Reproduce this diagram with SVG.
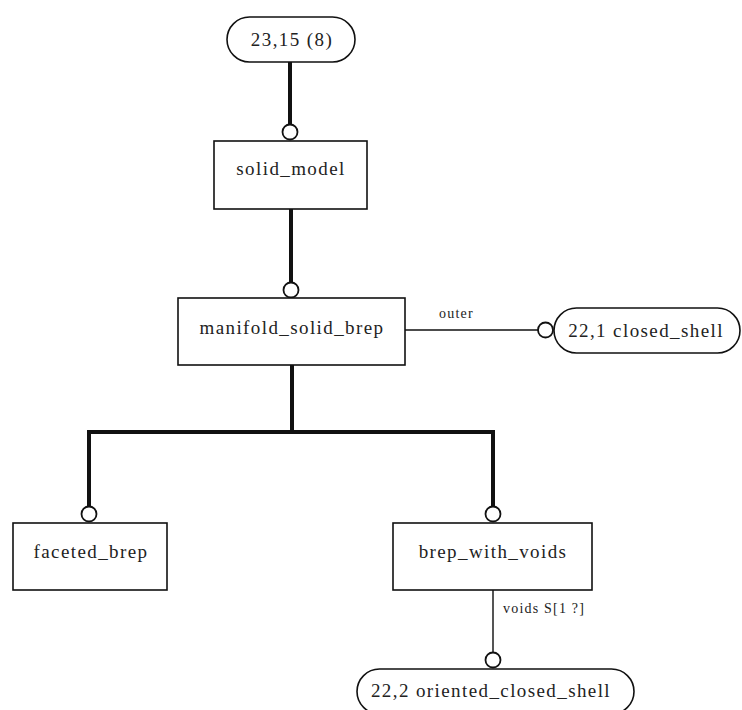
<svg xmlns="http://www.w3.org/2000/svg" width="742" height="710" viewBox="0 0 742 710">
<style>
.box{fill:#fff;stroke:#111;stroke-width:1.6}
.t{font-family:"Liberation Serif","Times New Roman",serif;font-size:19px;letter-spacing:1.4px;fill:#222;text-anchor:middle}
.s{font-family:"Liberation Serif","Times New Roman",serif;font-size:14px;letter-spacing:1.2px;fill:#222}
.thick{stroke:#111;stroke-width:4;fill:none}
.thin{stroke:#111;stroke-width:1.6;fill:none}
.grey{stroke:#555;stroke-width:2;fill:none}
.c{fill:#fff;stroke:#111;stroke-width:1.8}
</style>
<rect width="742" height="710" fill="#fff"/>
<g id="connectors">
<line class="thick" x1="290" y1="62" x2="290" y2="125"/>
<circle class="c" cx="290" cy="132" r="7.5"/>
<line class="thick" x1="291" y1="209" x2="291" y2="283"/>
<circle class="c" cx="291" cy="290" r="7.5"/>
<line class="thin" x1="405" y1="330" x2="538" y2="330"/>
<circle class="c" cx="545.5" cy="330" r="7.5"/>
<text class="s" x="439" y="318">outer</text>
<polyline class="thick" points="292,365 292,432"/>
<polyline class="thick" points="89,506 89,432 493,432 493,506"/>
<circle class="c" cx="89" cy="514" r="7.5"/>
<circle class="c" cx="493" cy="514" r="7.5"/>
<line class="grey" x1="493" y1="590" x2="493" y2="652"/>
<circle class="c" cx="493" cy="660" r="7.5"/>
<text class="s" x="503" y="613">voids S[1 ?]</text>
</g>
<g id="n_23_15"><rect class="box" x="227" y="17" width="128" height="45" rx="22.5"/><text class="t" x="292" y="46">23,15 (8)</text></g>
<g id="n_solid_model"><rect class="box" x="214" y="141" width="153" height="68"/><text class="t" x="291" y="175">solid_model</text></g>
<g id="n_manifold_solid_brep"><rect class="box" x="178" y="298" width="227" height="67"/><text class="t" x="292" y="334">manifold_solid_brep</text></g>
<g id="n_closed_shell"><rect class="box" x="554" y="308" width="186" height="45" rx="22.5"/><text class="t" x="646" y="337">22,1 closed_shell</text></g>
<g id="n_faceted_brep"><rect class="box" x="13" y="523" width="154" height="67"/><text class="t" x="91" y="558">faceted_brep</text></g>
<g id="n_brep_with_voids"><rect class="box" x="393" y="523" width="199" height="67"/><text class="t" x="493" y="558">brep_with_voids</text></g>
<g id="n_oriented_closed_shell"><rect class="box" x="357" y="669" width="277" height="45" rx="22.5"/><text class="t" x="491" y="697">22,2 oriented_closed_shell</text></g>
</svg>
